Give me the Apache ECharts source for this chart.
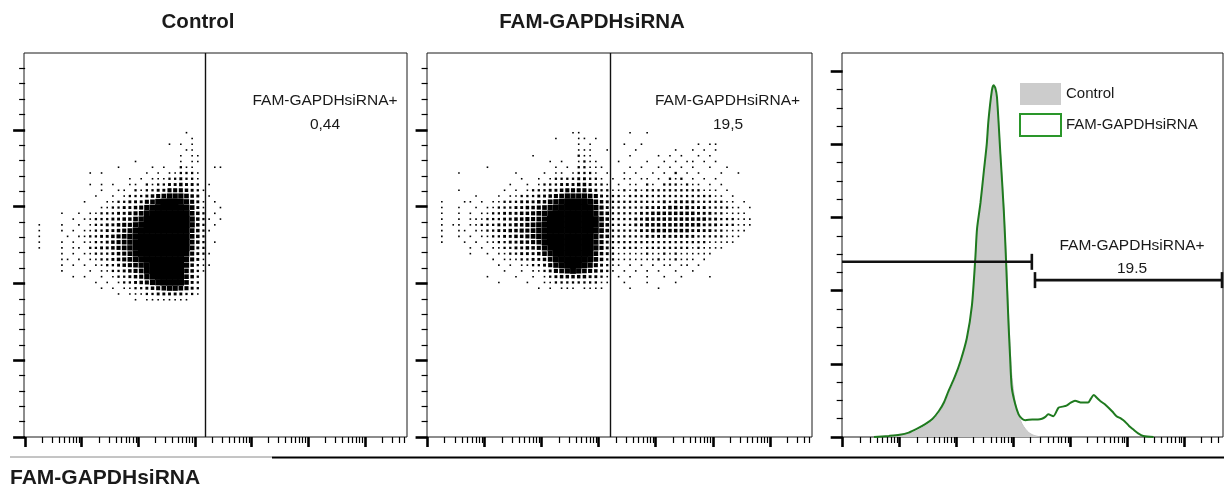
<!DOCTYPE html>
<html>
<head>
<meta charset="utf-8">
<title>FAM-GAPDHsiRNA</title>
<script src="https://cdn.jsdelivr.net/npm/echarts@6/dist/echarts.min.js"></script>
<style>
html, body { margin: 0; padding: 0; background: #fff; }
#chart { width: 1224px; height: 491px; }
</style>
</head>
<body>
<div id="chart"></div>
<script>
// dot plots are kept as density grids:
// one string per row (top row first), one digit per cell, 0 = empty .. 9 = solid
const CELL_X0 = 0.2;    // decades, left edge of column 0
const CELL_DX = 0.1;    // decades per column
const CELL_Y0 = 4.0;    // top edge of row 0
const CELL_DY = 0.075;  // units per row

const controlRows = [
  '0000000000 0000000000 0000001000 0000',
  '0000000000 0000000000 0000000100 0000',
  '0000000000 0000000000 0001010100 0000',
  '0000000000 0000000000 0000001100 0000',
  '0000000000 0000000000 0000010110 0000',
  '0000000000 0000000100 0000010110 0000',
  '0000000000 0000100000 1010021100 0110',
  '0000000001 0100000001 0101122210 0000',
  '0000000000 0000001010 1112232210 0000',
  '0000000001 0101001102 1223343320 1000',
  '0000000000 0100110212 2335554321 0000',
  '0000000000 1001012223 4567776430 1000',
  '0000000010 0011223335 6899987531 0100',
  '0000000000 0112233457 8999998631 0010',
  '0000100101 1222334568 9999999642 0100',
  '0000001011 2223344679 9999999742 1010',
  '1000100101 2233455789 9999999742 0100',
  '1000101011 2233456899 9999999642 1000',
  '1000010112 2334567899 9999999642 0000',
  '1000101011 2234567899 9999999642 0100',
  '1000101102 2334567899 9999999632 0000',
  '0000101011 2223456899 9999998532 1000',
  '0000110101 1223456789 9999997531 0000',
  '0000101010 1122345678 9999997421 1000',
  '0000100001 0112234568 9999996421 0000',
  '0000001010 0101223457 8999996420 0000',
  '0000000000 1010122345 7899996320 0000',
  '0000000000 0101011223 4567765320 0000',
  '0000000000 0000101112 2333332210 0000',
  '0000000000 0000000101 1111111000 0000'
];

const famRows = [
  '0000000000 0000000000 0001100000 0001001000 0000000000 00000',
  '0000000000 0000000000 1000110100 0000000000 0000000000 00000',
  '0000000000 0000000000 0000101000 0010010000 0000010110 00000',
  '0000000000 0000000000 0000111001 0000100000 0100101010 00000',
  '0000000000 0000001000 0000211000 0001000010 1010010100 00000',
  '0000000000 0000000001 0100121100 0100001001 0101101010 00000',
  '0000000010 0000000000 1010221110 0001010010 1010100100 10000',
  '0001000000 0001000010 1101222101 0010100101 0201010001 00100',
  '0000000000 0000100101 2222332210 1011011010 2120101010 00000',
  '0000000000 0010010122 2333443221 0101102102 2212110101 00000',
  '0001000000 0101012223 3455554322 1121212222 2222221110 10000',
  '0000001000 1011222334 5677776532 2212222222 2222222211 01000',
  '1000110101 1222333446 7899998643 2222222223 2333322222 11010',
  '1001001011 2223344567 8999999753 2222223333 4434333222 21101',
  '1001010112 2333445678 9999999754 2222233444 4444433322 11110',
  '1001011122 2334455679 9999999864 2222334444 4444444332 22111',
  '1011011222 3334456789 9999999864 2222334444 4444443332 22111',
  '1001101122 3344556789 9999999864 2222233444 4444333322 11110',
  '1001010112 2334456789 9999999754 2222223333 3333322222 11100',
  '1000101011 2233445689 9999999753 2222222222 2222222111 11000',
  '0000010101 1223344578 9999999753 2122212222 2222121111 00000',
  '0000010010 1122333467 9999999643 2111112112 1211111100 00000',
  '0000000001 0111223346 8999998642 2111111121 1211101000 00000',
  '0000000000 1010112235 7899987532 1101010101 1011010000 00000',
  '0000000000 0100101123 5678765432 1010101010 0100100000 00000',
  '0000000010 0001001012 3444443321 0101001001 0010000100 00000',
  '0000000000 1000010011 2222222211 0010001000 0100000000 00000',
  '0000000000 0000000101 0111011110 0001000010 0000000000 00000'
];

// gate thresholds (decades) and gated percentages
const controlGate = 3.18;
const famGate = 3.20;
const controlPct = '0,44';
const famPct = '19,5';
const histPct = '19.5';

// histogram, x in decades, y in % of the panel scale
const controlHistX = [0.55,0.81,1.0,1.16,1.30,1.45,1.58,1.69,1.78,1.86,1.97,2.07,2.18,2.27,2.33,2.36,2.42,2.48,2.53,2.56,2.62,2.65,2.68,2.71,2.77,2.83,2.87,2.91,2.94,2.97,3.03,3.09,3.15,3.21,3.27,3.35,3.47];
const controlHistY = [0,0.2,0.4,0.9,1.7,3.0,4.4,6.4,8.8,11.8,15.6,20,26,35,48,56,63,72,79,86,94.5,96,95.3,93,78,63,50,35,25,17,9.5,6.0,3.6,2.2,1.2,0.5,0];
const famHistX = [0.55,0.81,1.0,1.16,1.30,1.45,1.58,1.69,1.78,1.86,1.97,2.07,2.18,2.27,2.33,2.36,2.42,2.48,2.53,2.56,2.62,2.65,2.68,2.71,2.77,2.83,2.87,2.91,2.94,2.97,3.03,3.09,3.15,3.21,3.33,3.43,3.50,3.56,3.61,3.70,3.79,3.86,3.93,4.0,4.08,4.20,4.31,4.36,4.41,4.46,4.52,4.60,4.67,4.74,4.81,4.89,4.96,5.03,5.10,5.19,5.28,5.46];
const famHistY = [0,0.3,0.6,1.2,2.2,3.5,5,7.1,9.5,12.6,16.5,20.8,27,36,49,57,64,72.8,80,86.5,94.7,96.2,95.5,92.9,77.4,61.9,48,32,22,13.5,9,6.2,5,4.6,4.8,4.8,5,5.5,6.2,5.7,8.0,8.3,8.6,9.3,9.9,9.4,9.4,10.5,11.5,10.8,9.9,9,8.0,6.9,5.7,5.0,4.2,3.0,2.1,1.0,0.3,0];

// histogram range gates: [from, to, height]
const histGates = [[-0.012, 3.34, 47.9], [3.36, 6.68, 42.9]];
const gateCaps = [[false, true], [true, true]];

// axis ticks
const xMajor = [0, 1, 2, 3, 4, 5, 6];
const xMinorMult = [2, 3, 4, 5, 6, 7, 8, 9];
const dotYMajor = [0, 1, 2, 3, 4];
const histYMajor = [0, 20, 40, 60, 80, 100];

const FONT = "'Liberation Sans', Arial, sans-serif";
const DOT_SIZE = [0, 1.6, 2.3, 2.9, 3.5, 4.1, 4.7, 5.3, 5.9, 6.4];
const GREEN = '#1f7a1f';

function cellPoints(rows) {
  const pts = [];
  rows.forEach(function (line, r) {
    const row = line.replace(/ /g, '');
    for (let c = 0; c < row.length; c++) {
      const k = +row[c];
      if (k > 0) pts.push([CELL_X0 + (c + 0.5) * CELL_DX, CELL_Y0 - (r + 0.5) * CELL_DY, k]);
    }
  });
  return pts;
}

function zip(xs, ys) {
  return xs.map(function (x, i) { return [x, ys[i]]; });
}

function minorX(max) {
  const out = [];
  xMajor.forEach(function (d) {
    xMinorMult.forEach(function (m) {
      const v = d + Math.log10(m);
      if (v < max) out.push(v);
    });
  });
  return out;
}

// minor ticks: `steps` intervals per major interval, skipping the majors
function minorY(major, steps, max) {
  const out = [];
  const span = major[1] - major[0];
  const step = span / steps;
  for (let i = 1; i * step < max - 1e-6; i++) {
    if (i % steps !== 0) out.push(+(i * step).toFixed(4));
  }
  return out;
}

function baseAxis(gi, min, max, pos) {
  return {
    type: 'value', gridIndex: gi, min: min, max: max, position: pos,
    axisLine: { show: false }, axisLabel: { show: false }, splitLine: { show: false }
  };
}

function tickAxis(gi, min, max, pos, values, len, width) {
  const a = baseAxis(gi, min, max, pos);
  a.axisTick = { show: true, inside: false, length: len, customValues: values,
    lineStyle: { color: '#000', width: width } };
  return a;
}

const panels = [
  { grid: { left: 24, top: 53, width: 383, height: 384 }, xMin: -0.02, xMax: 6.745, yMax: 5, yMajor: dotYMajor, ySteps: 5 },
  { grid: { left: 427, top: 53, width: 385, height: 384 }, xMin: -0.01, xMax: 6.74, yMax: 5, yMajor: dotYMajor, ySteps: 5 },
  { grid: { left: 842, top: 53, width: 381, height: 384 }, xMin: -0.012, xMax: 6.68, yMax: 105, yMajor: histYMajor, ySteps: 4 }
];

const grids = [], xAxes = [], yAxes = [];
panels.forEach(function (p, gi) {
  grids.push(Object.assign({ show: true, borderColor: '#1a1a1a', borderWidth: 1, backgroundColor: 'transparent' }, p.grid));
  xAxes.push(tickAxis(gi, p.xMin, p.xMax, 'bottom', xMajor, 10, 2.6));
  xAxes.push(tickAxis(gi, p.xMin, p.xMax, 'bottom', minorX(p.xMax), 6, 1.2));
  yAxes.push(tickAxis(gi, 0, p.yMax, 'left', p.yMajor, 12, 2.6));
  yAxes.push(tickAxis(gi, 0, p.yMax, 'left', minorY(p.yMajor, p.ySteps, p.yMax), 6, 1.2));
});

function dotSeries(name, rows, xi, gate) {
  return {
    name: name, type: 'scatter', xAxisIndex: xi, yAxisIndex: xi,
    data: cellPoints(rows), symbol: 'rect', silent: true,
    symbolSize: function (v) { return DOT_SIZE[v[2]]; },
    itemStyle: { color: '#000', opacity: 1 },
    markLine: {
      silent: true, symbol: 'none', label: { show: false },
      lineStyle: { color: '#111', width: 1.4, type: 'solid' },
      data: [{ xAxis: gate }]
    }
  };
}

function label(text, x, y, size, weight, align) {
  return {
    type: 'text', x: x, y: y, silent: true,
    style: { text: text, fontSize: size, fontWeight: weight || 'normal', fontFamily: FONT,
      fill: '#1a1a1a', align: align || 'center', verticalAlign: 'middle' }
  };
}

const chart = echarts.init(document.getElementById('chart'), null, { renderer: 'canvas' });
chart.setOption({
  animation: false,
  backgroundColor: '#fff',
  grid: grids,
  xAxis: xAxes,
  yAxis: yAxes,
  legend: {
    orient: 'vertical', left: 1019, top: 83, padding: 0, itemWidth: 41, itemHeight: 22, itemGap: 8,
    textStyle: { fontSize: 15, fontFamily: FONT, color: '#1a1a1a' },
    selectedMode: false,
    data: [
      { name: 'Control', icon: 'rect', itemStyle: { color: '#cccccc', borderWidth: 0 } },
      { name: 'FAM-GAPDHsiRNA', icon: 'rect', itemStyle: { color: '#fff', borderColor: '#2a962a', borderWidth: 2 } }
    ]
  },
  series: [
    dotSeries('controlDots', controlRows, 0, controlGate),
    dotSeries('famDots', famRows, 2, famGate),
    {
      name: 'Control', type: 'line', xAxisIndex: 4, yAxisIndex: 4,
      data: zip(controlHistX, controlHistY), showSymbol: false, smooth: 0.25,
      lineStyle: { color: '#c4c4c4', width: 1 },
      itemStyle: { color: '#cccccc' },
      areaStyle: { color: '#cccccc', opacity: 1 },
      silent: true, z: 1
    },
    {
      name: 'FAM-GAPDHsiRNA', type: 'line', xAxisIndex: 4, yAxisIndex: 4,
      data: zip(famHistX, famHistY), showSymbol: false, smooth: 0.25,
      lineStyle: { color: GREEN, width: 2 },
      itemStyle: { color: GREEN },
      silent: true, z: 3
    },
    {
      name: 'gates', type: 'custom', xAxisIndex: 4, yAxisIndex: 4, silent: true, z: 4,
      data: histGates.map(function (g, i) { return g.concat([i]); }),
      renderItem: function (params, api) {
        const a = api.coord([api.value(0), api.value(2)]);
        const b = api.coord([api.value(1), api.value(2)]);
        const caps = gateCaps[api.value(3)];
        const st = { stroke: '#111', lineWidth: 2.6 };
        const kids = [{ type: 'line', shape: { x1: a[0], y1: a[1], x2: b[0], y2: b[1] }, style: st }];
        if (caps[0]) kids.push({ type: 'line', shape: { x1: a[0] + 1, y1: a[1] - 8, x2: a[0] + 1, y2: a[1] + 8 }, style: st });
        if (caps[1]) kids.push({ type: 'line', shape: { x1: b[0] - 1, y1: b[1] - 8, x2: b[0] - 1, y2: b[1] + 8 }, style: st });
        return { type: 'group', children: kids };
      }
    }
  ],
  graphic: [
    label('Control', 198, 22, 20.5, 'bold'),
    label('FAM-GAPDHsiRNA', 592, 22, 20.5, 'bold'),
    label('FAM-GAPDHsiRNA+', 325, 101, 15.5),
    label(controlPct, 325, 125, 15.5),
    label('FAM-GAPDHsiRNA+', 727.5, 101, 15.5),
    label(famPct, 728, 125, 15.5),
    label('FAM-GAPDHsiRNA+', 1132, 246, 15.5),
    label(histPct, 1132, 268.5, 15.5),
    label('FAM-GAPDHsiRNA', 10, 478, 21, 'bold', 'left'),
    { type: 'line', silent: true, shape: { x1: 10, y1: 457, x2: 272, y2: 457 }, style: { stroke: '#8a8a8a', lineWidth: 1 } },
    { type: 'line', silent: true, shape: { x1: 272, y1: 457.5, x2: 1224, y2: 457.5 }, style: { stroke: '#000', lineWidth: 2 } }
  ]
});
</script>
</body>
</html>
